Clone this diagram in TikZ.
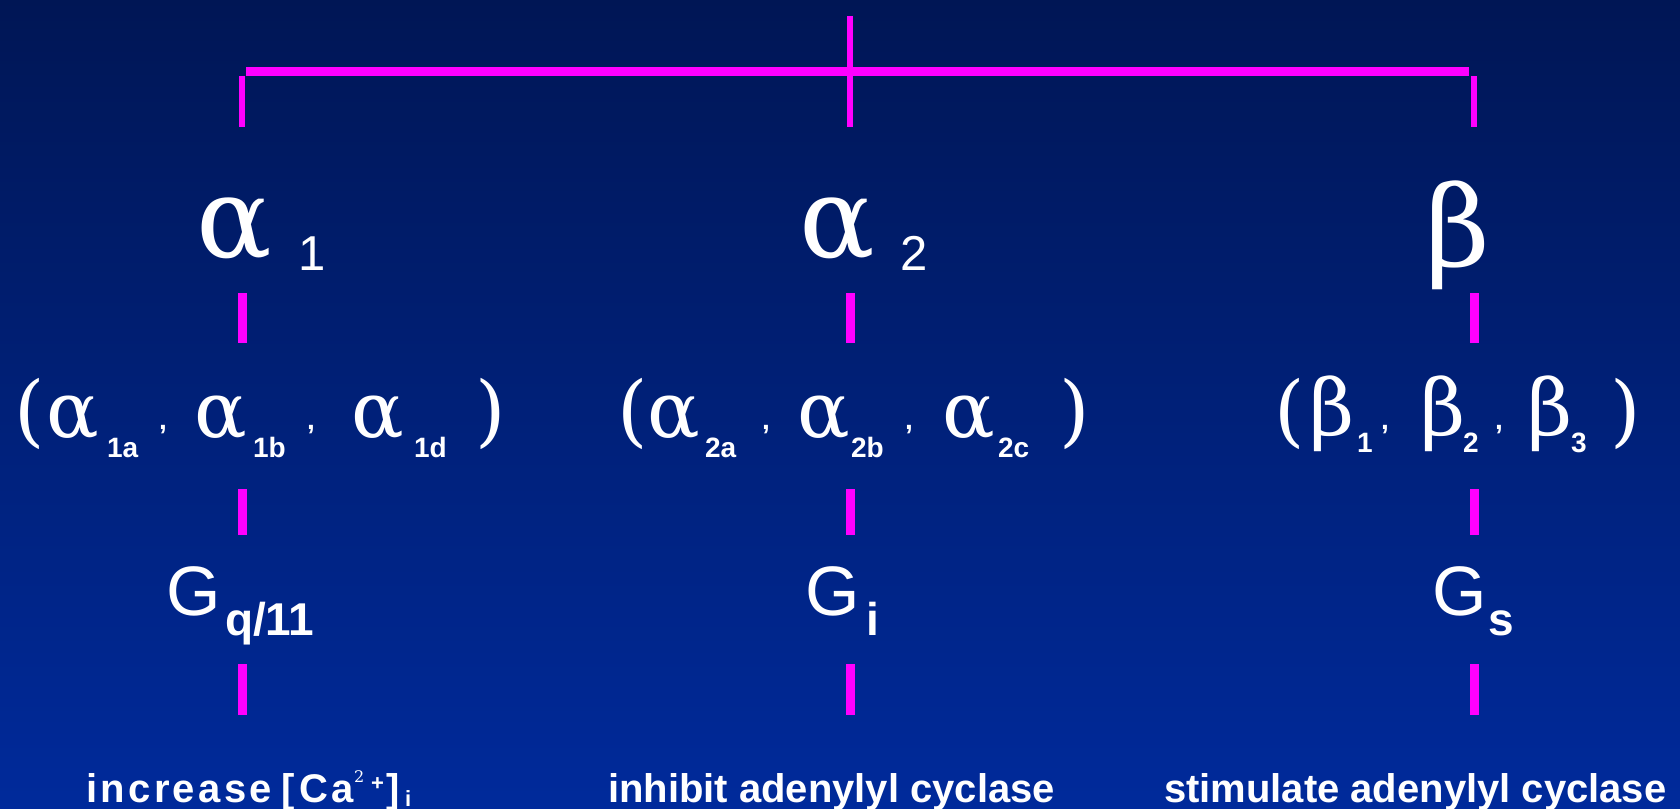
\documentclass[tikz,border=0pt]{standalone}
\usepackage{fontspec}
\setmainfont{Liberation Sans}
\newfontfamily\grk{DejaVu Serif}
\newfontfamily\spaced{Liberation Sans}[LetterSpace=8.5]
\definecolor{bgtop}{RGB}{0,22,85}
\definecolor{bgbot}{RGB}{0,42,155}
\definecolor{mag}{RGB}{255,0,255}
\tikzset{
 txt/.style={inner sep=0pt,outer sep=0pt,anchor=base west,text=white},
 lblBig/.style={txt,font=\grk\fontsize{112}{112}\selectfont},
 lblSubA/.style={txt,font=\fontsize{49}{49}\selectfont},
 lblMid/.style={txt,font=\grk\fontsize{78}{78}\selectfont},
 lblSubB/.style={txt,font=\bfseries\fontsize{28}{28}\selectfont},
 lblG/.style={txt,font=\fontsize{70}{70}\selectfont},
 lblSubC/.style={txt,font=\bfseries\fontsize{46}{46}\selectfont},
 lblFoot/.style={txt,font=\bfseries\fontsize{40}{40}\selectfont},
 topbar/.style={draw=mag,line width=9pt},
 stemln/.style={draw=mag,line width=6pt},
 dashln/.style={draw=mag,line width=9pt},
}
\begin{document}
\begin{tikzpicture}[x=1pt,y=-1pt]
\useasboundingbox (0,0) rectangle (1680,808);
\shade[top color=bgtop,bottom color=bgbot] (0,0) rectangle (1680,808);
% tree lines
\coordinate (root) at (850,16);
\coordinate (hubB) at (850,127);
\coordinate (barL) at (246,71.5);
\coordinate (barR) at (1469,71.5);
\coordinate (dropLt) at (241.5,76);
\coordinate (dropLb) at (241.5,127);
\coordinate (dropRt) at (1474,76);
\coordinate (dropRb) at (1474,127);
\draw[topbar] (barL) -- (barR);
\draw[stemln] (root) -- (hubB);
\draw[stemln] (dropLt) -- (dropLb);
\draw[stemln] (dropRt) -- (dropRb);
% dashes
\foreach \cx/\nm in {242/L,850/C,1474/R}{
  \coordinate (d1t\nm) at (\cx,293); \coordinate (d1b\nm) at (\cx,343);
  \coordinate (d2t\nm) at (\cx,489); \coordinate (d2b\nm) at (\cx,535);
  \coordinate (d3t\nm) at (\cx,664); \coordinate (d3b\nm) at (\cx,715);
  \draw[dashln] (d1t\nm) -- (d1b\nm);
  \draw[dashln] (d2t\nm) -- (d2b\nm);
  \draw[dashln] (d3t\nm) -- (d3b\nm);
}
% row 1
\node[lblBig] (aone) at (196,257) {α};
\node[lblSubA] (aonesub) at (298,270) {1};
\node[lblBig] (atwo) at (799,257) {α};
\node[lblSubA] (atwosub) at (900,270) {2};
\node[lblBig] (beta) at (1425,266) {β};
% row 2 left
\node[lblMid] (lpA) at (14,437) {(};
\node[lblMid] (la1) at (46,437) {α};
\node[lblSubB] (ls1) at (107,457) {1a};
\node[lblSubB] (lc1) at (159,429) {,};
\node[lblMid] (la2) at (194,437) {α};
\node[lblSubB] (ls2) at (253,457) {1b};
\node[lblSubB] (lc2) at (307,429) {,};
\node[lblMid] (la3) at (351,437) {α};
\node[lblSubB] (ls3) at (414,457) {1d};
\node[lblMid] (rpA) at (475,437) {)};
% row 2 middle
\node[lblMid] (lpB) at (617,437) {(};
\node[lblMid] (ma1) at (647,437) {α};
\node[lblSubB] (ms1) at (705,457) {2a};
\node[lblSubB] (mc1) at (762,429) {,};
\node[lblMid] (ma2) at (797,437) {α};
\node[lblSubB] (ms2) at (851,457) {2b};
\node[lblSubB] (mc2) at (905,429) {,};
\node[lblMid] (ma3) at (942,437) {α};
\node[lblSubB] (ms3) at (998,457) {2c};
\node[lblMid] (rpB) at (1059,437) {)};
% row 2 right
\node[lblMid] (lpC) at (1274,437) {(};
\node[lblMid] (rb1) at (1309,435) {β};
\node[lblSubB] (rs1) at (1357,452) {1};
\node[lblSubB] (rc1) at (1381,429) {,};
\node[lblMid] (rb2) at (1420,435) {β};
\node[lblSubB] (rs2) at (1463,452) {2};
\node[lblSubB] (rc2) at (1495,429) {,};
\node[lblMid] (rb3) at (1527,435) {β};
\node[lblSubB] (rs3) at (1571,452) {3};
\node[lblMid] (rpC) at (1610,437) {)};
% row 3
\node[lblG] (gq) at (166,615) {G};
\node[lblSubC] (gqs) at (225,635) {q/11};
\node[lblG] (gi) at (805,615) {G};
\node[lblSubC] (gis) at (866,635) {i};
\node[lblG] (gs) at (1432,615) {G};
\node[lblSubC] (gss) at (1488,635) {s};
% footer
\node[lblFoot,font=\spaced\bfseries\fontsize{40}{40}\selectfont] (fInc) at (86,802) {increase};
\node[lblFoot] (fBrL) at (281,802) {[};
\node[lblFoot,font=\spaced\bfseries\fontsize{40}{40}\selectfont] (fCa) at (299,802) {Ca};
\node[txt,font=\grk\fontsize{16}{16}\selectfont] (fTwo) at (354,782) {2};
\node[txt,font=\bfseries\fontsize{22}{22}\selectfont] (fPlus) at (371,790) {+};
\node[lblFoot] (fBrR) at (386,802) {]};
\node[txt,font=\bfseries\fontsize{22}{22}\selectfont] (fI) at (405,806) {i};
\node[lblFoot] (fInh) at (608,802) {inhibit adenylyl cyclase};
\node[lblFoot] (fSti) at (1164,802) {stimulate adenylyl cyclase};
\end{tikzpicture}
\end{document}
